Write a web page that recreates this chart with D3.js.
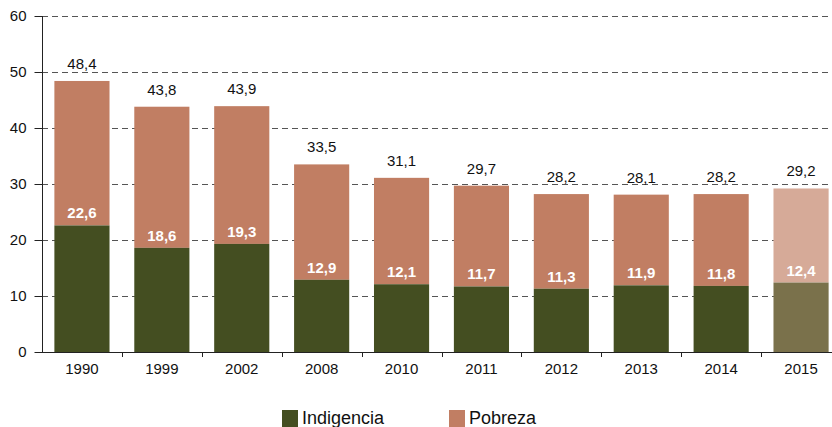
<!DOCTYPE html>
<html>
<head>
<meta charset="utf-8">
<script src="https://cdn.jsdelivr.net/npm/d3@7"></script>
<style>
  body { margin: 0; background: #fff; }
  text { font-family: "Liberation Sans", Arial, sans-serif; }
</style>
</head>
<body>
<div id="chart"></div>
<script>
const years = ["1990", "1999", "2002", "2008", "2010", "2011", "2012", "2013", "2014", "2015"];
const indigencia = [22.6, 18.6, 19.3, 12.9, 12.1, 11.7, 11.3, 11.9, 11.8, 12.4];
const pobreza = [48.4, 43.8, 43.9, 33.5, 31.1, 29.7, 28.2, 28.1, 28.2, 29.2];
const yTicks = [0, 10, 20, 30, 40, 50, 60];
const projected = ["2015"];

const chart = () => {
    let width = 832;
    let height = 427;
    let fmt = v => d3.format(".1f")(v).replace(".", ",");

    let xScale = d3.scaleBand()
        .domain(years)
        .range([42, 841])
        .paddingInner(0.31)
        .paddingOuter(0.155);

    let yScale = d3.scaleLinear()
        .domain([0, 60])
        .range([352, 16]);

    let svg = d3.select("#chart")
        .append("svg")
        .attr("width", width)
        .attr("height", height);

    // dashed grid
    svg.append("g")
        .selectAll("line")
        .data(yTicks.filter(d => d > 0))
        .join("line")
        .attr("x1", 42)
        .attr("x2", width)
        .attr("y1", d => yScale(d) + 0.5)
        .attr("y2", d => yScale(d) + 0.5)
        .attr("stroke", "#555")
        .attr("stroke-width", 1)
        .attr("stroke-dasharray", "6,4");

    let data = years.map((y, i) => ({year: y, ind: indigencia[i], pob: pobreza[i], proj: projected.includes(y)}));

    let bars = svg.append("g").selectAll("g")
        .data(data)
        .join("g");

    bars.append("rect")
        .attr("x", d => xScale(d.year))
        .attr("width", xScale.bandwidth())
        .attr("y", d => yScale(d.pob))
        .attr("height", d => yScale(d.ind) - yScale(d.pob))
        .attr("fill", d => d.proj ? "#d6aa98" : "#c17e63");

    bars.append("rect")
        .attr("x", d => xScale(d.year))
        .attr("width", xScale.bandwidth())
        .attr("y", d => yScale(d.ind))
        .attr("height", d => yScale(0) - yScale(d.ind))
        .attr("fill", d => d.proj ? "#7a714b" : "#444e21");

    bars.append("text")
        .attr("x", d => xScale(d.year) + xScale.bandwidth() / 2)
        .attr("y", d => yScale(d.pob) - 12)
        .attr("text-anchor", "middle")
        .attr("font-size", "15px")
        .attr("fill", "#111")
        .text(d => fmt(d.pob));

    bars.append("text")
        .attr("x", d => xScale(d.year) + xScale.bandwidth() / 2)
        .attr("y", d => yScale(d.ind) - 7)
        .attr("text-anchor", "middle")
        .attr("font-size", "15px")
        .attr("font-weight", "bold")
        .attr("fill", "#fff")
        .text(d => fmt(d.ind));

    // x axis
    let xAxis = svg.append("g")
        .attr("transform", "translate(0,352)");
    xAxis.append("line")
        .attr("x1", 42).attr("x2", width)
        .attr("y1", 0.5).attr("y2", 0.5)
        .attr("stroke", "#222");
    xAxis.selectAll(".tk")
        .data(years.slice(1))
        .join("line")
        .attr("x1", d => Math.round(xScale(d) - xScale.step() * xScale.paddingInner() / 2) + 0.5)
        .attr("x2", d => Math.round(xScale(d) - xScale.step() * xScale.paddingInner() / 2) + 0.5)
        .attr("y1", 0).attr("y2", 5)
        .attr("stroke", "#222");
    xAxis.selectAll("text")
        .data(years)
        .join("text")
        .attr("x", d => xScale(d) + xScale.bandwidth() / 2)
        .attr("y", 22)
        .attr("text-anchor", "middle")
        .attr("font-size", "15px")
        .attr("fill", "#111")
        .text(d => d);

    // y axis
    let yAxis = d3.axisLeft(yScale)
        .tickValues(yTicks)
        .tickSize(8)
        .tickPadding(8)
        .tickFormat(d3.format("d"));
    svg.append("g")
        .attr("transform", "translate(42.5,0)")
        .call(yAxis)
        .call(g => g.select(".domain").attr("stroke", "#222").attr("d", "M0,16V353"))
        .call(g => g.selectAll(".tick line").attr("stroke", "#222"))
        .call(g => g.selectAll(".tick text")
            .attr("font-size", "15px")
            .attr("fill", "#111")
            .attr("font-family", "Liberation Sans, Arial, sans-serif"));

    // legend
    let legend = [["Indigencia", "#444e21", 282], ["Pobreza", "#c17e63", 449]];
    legend.forEach(l => {
        svg.append("rect")
            .attr("x", l[2]).attr("y", 410)
            .attr("width", 16).attr("height", 17)
            .attr("fill", l[1]);
        svg.append("text")
            .attr("x", l[2] + 20).attr("y", 424)
            .attr("font-size", "18px")
            .attr("fill", "#111")
            .text(l[0]);
    });
};
chart();
</script>
</body>
</html>
